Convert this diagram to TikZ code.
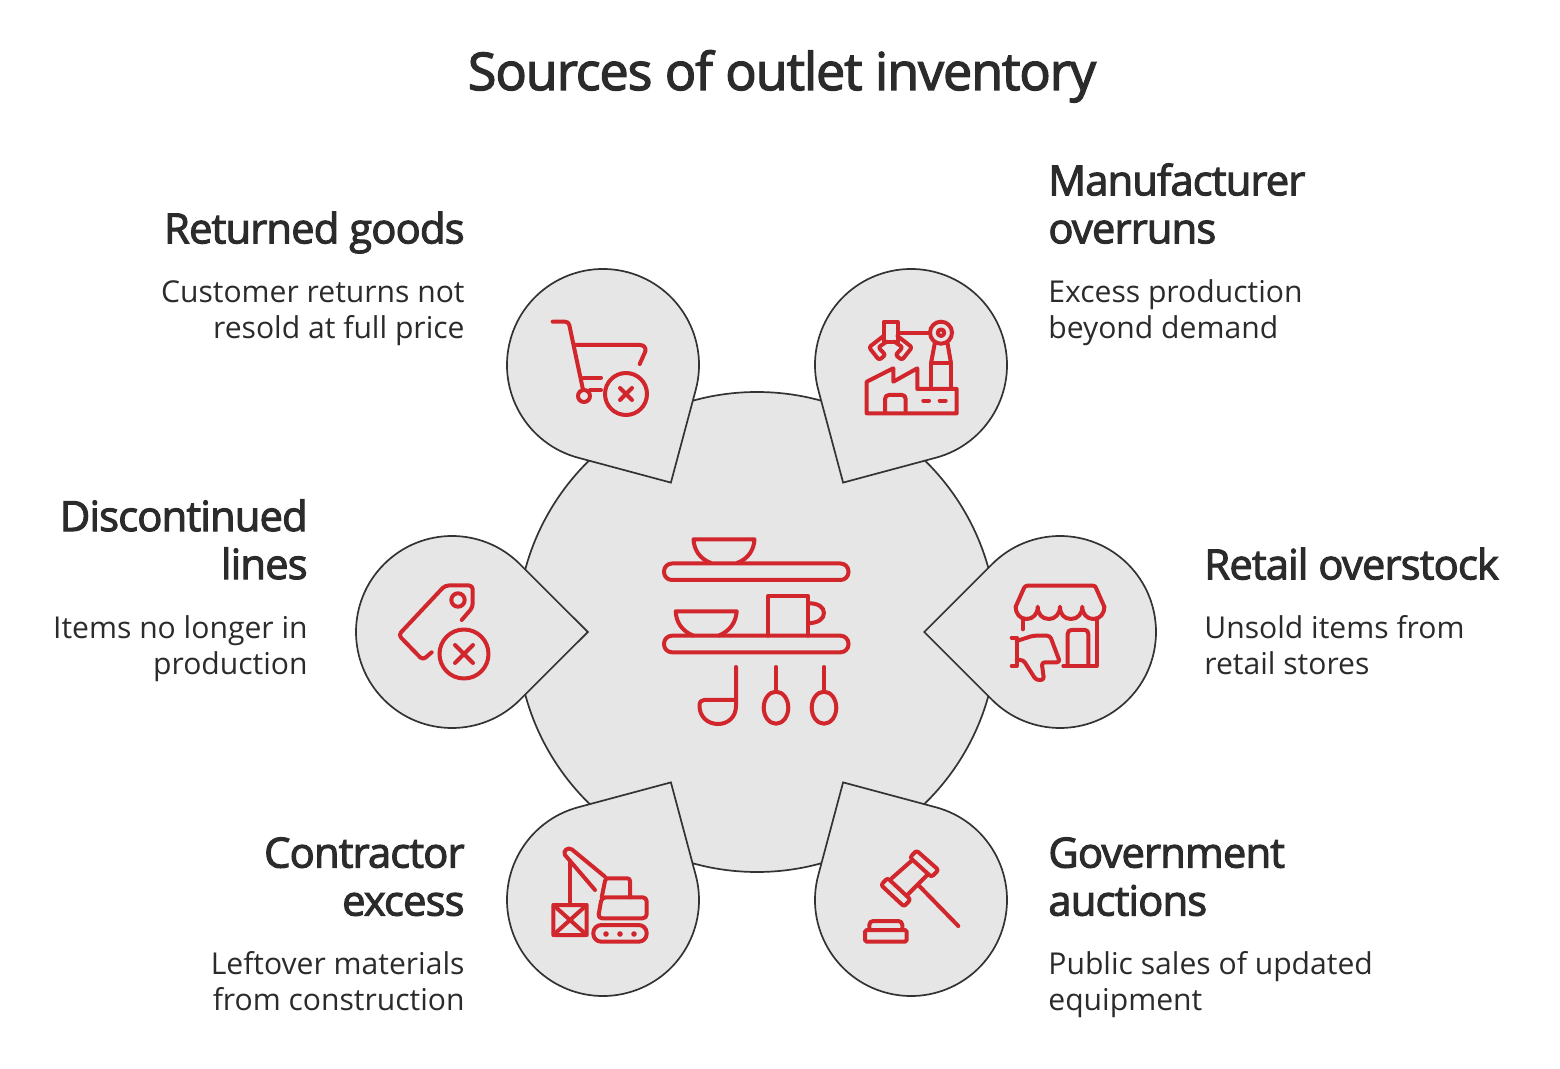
\documentclass[tikz,border=0pt]{standalone}
\usepackage{fontspec}
\setmainfont{Open Sans}
\newfontfamily\headfont[FakeBold=2.5,LetterSpace=-2]{Open Sans}
\definecolor{iconred}{HTML}{D0262C}
\definecolor{inkdark}{HTML}{2B2B2B}
\definecolor{petalfill}{HTML}{E6E6E6}
\definecolor{edge}{HTML}{333333}
\newcommand{\headstrut}{\rule{0pt}{20pt}}
\newcommand{\bodystrut}{\rule{0pt}{15pt}}
\tikzset{
  shapeedge/.style={draw=edge,fill=petalfill,line width=0.85pt,line join=miter},
  icon/.style={draw=iconred,line width=2pt,line cap=round,line join=round},
  icondot/.style={fill=iconred,draw=none},
  titletext/.style={font=\headfont\fontsize{26}{30}\selectfont,text=inkdark,inner sep=0pt},
  headL/.style={font=\headfont\fontsize{20.85}{24}\selectfont,text=inkdark,inner sep=0pt,align=right,anchor=north east,execute at begin node=\headstrut},
  headR/.style={font=\headfont\fontsize{20.85}{24}\selectfont,text=inkdark,inner sep=0pt,align=left,anchor=north west,execute at begin node=\headstrut},
  bodyL/.style={font=\fontsize{15.05}{18}\selectfont,text=inkdark,inner sep=0pt,align=right,anchor=north east,execute at begin node=\bodystrut},
  bodyR/.style={font=\fontsize{15.05}{18}\selectfont,text=inkdark,inner sep=0pt,align=left,anchor=north west,execute at begin node=\bodystrut},
}
\newcommand{\petal}[3]{% cx, cy, tip direction
  \draw[shapeedge] ($(#1,#2)+(#3:135.8)$) -- ($(#1,#2)+(#3+45:96)$) arc[start angle=#3+45,delta angle=270,radius=96] -- cycle;
}
\usetikzlibrary{calc}
\begin{document}
\begin{tikzpicture}[x=0.5pt,y=-0.5pt]
\useasboundingbox (0,0) rectangle (1560,1069);
\fill[white] (0,0) rectangle (1560,1069);
% hub and petals
\draw[shapeedge] (757,632) circle[radius=240];
\petal{603}{365}{60}
\petal{911}{365}{120}
\petal{452}{632}{0}
\petal{1060}{632}{180}
\petal{603}{900}{-60}
\petal{911}{900}{-120}
% title
\node[titletext,anchor=base] (title) at (782,90) {Sources of outlet inventory};
% texts
\node[headL] (h1) at (465,203) {Returned goods};
\node[bodyL] (b1) at (465,280) {Customer returns not\\resold at full price};
\node[headR] (h2) at (1048,163) {Manufacturer\\overruns};
\node[bodyR] (b2) at (1048,279) {Excess production\\beyond demand};
\node[headL] (h3) at (308,499) {Discontinued\\lines};
\node[bodyL] (b3) at (308,615) {Items no longer in\\production};
\node[headR] (h4) at (1204,539) {Retail overstock};
\node[bodyR] (b4) at (1204,615) {Unsold items from\\retail stores};
\node[headL] (h5) at (465,837) {Contractor\\excess};
\node[bodyL] (b5) at (465,951) {Leftover materials\\from construction};
\node[headR] (h6) at (1048,837) {Government\\auctions};
\node[bodyR] (b6) at (1048,951) {Public sales of updated\\equipment};
% centre icon
\draw[icon,rounded corners=4pt] (664,563.5) rectangle (848.5,580);
\draw[icon,rounded corners=4pt] (664,635.7) rectangle (848.5,652.3);
\draw[icon] (711,563) .. controls (700,559) and (694,550) .. (693.5,539.3) -- (754.5,539.3) .. controls (754,550) and (748,559) .. (737,563);
\draw[icon] (693,635.5) .. controls (682,631) and (676,622) .. (675.7,611.3) -- (736.7,611.3) .. controls (736,622) and (730,631) .. (719,635.5);
\draw[icon] (768,635.7) -- (768,596) -- (808,596) -- (808,635.7);
\draw[icon] (808,603.3) .. controls (818,603) and (824,607) .. (824,613) .. controls (824,619) and (818,623) .. (808,623.3);
\draw[icon] (736,667) -- (736,706) .. controls (736,717) and (728,724) .. (718,724) .. controls (707,724) and (699.5,716) .. (699.5,706) .. controls (699.5,702) and (701,700) .. (704,700) -- (736,700);
\draw[icon] (776,667) -- (776,691.7);
\draw[icon] (776,707.7) ellipse[x radius=12.3,y radius=16];
\draw[icon] (824,667) -- (824,691.7);
\draw[icon] (824,707.7) ellipse[x radius=12.3,y radius=16];
% cart
\draw[icon] (552.7,321.7) -- (565,321.7) .. controls (567.5,321.7) and (568.7,323) .. (569.3,325) -- (582.7,388.3);
\draw[icon] (575,345) -- (640,345) .. controls (644,345) and (646,348) .. (645.5,351) -- (639.7,364);
\draw[icon] (583.3,377.7) -- (601,377.7);
\draw[icon] (590,390) -- (601,390);
\draw[icon] (584,396) circle[radius=6];
\draw[icon] (626,394) circle[radius=21];
\draw[icon] (620,388) -- (632,400) (632,388) -- (620,400);
% factory
\draw[icon] (866.7,381.7) -- (893.3,368.3) -- (893.3,381.7) -- (917.3,368.3) -- (917.3,389) -- (956.7,389) -- (956.7,413.3) -- (866.7,413.3) -- cycle;
\draw[icon] (885,413) -- (885,399) .. controls (885,396.5) and (887,395) .. (889,395) -- (902,395) .. controls (904,395) and (905.7,396.5) .. (905.7,399) -- (905.7,413);
\draw[icon] (923.3,400.7) -- (929,400.7) (939.7,400.7) -- (945.7,400.7);
\draw[icon] (931,389) -- (931,363.3) -- (951,363.3) -- (951,389);
\draw[icon] (931,363.3) -- (935,342) (951,363.3) -- (947.3,342);
\draw[icon] (941,332.7) circle[radius=11];
\draw[icon] (941,332.7) circle[radius=3.3];
\draw[icon] (898,332.7) -- (930,332.7);
\draw[icon] (883.5,322) rectangle (897.5,341.7);
\draw[icon,rounded corners=1.2pt] (883.5,336) -- (869,347.3) -- (879,360) -- (885.5,355) -- (878.3,347.3) -- (886.7,341.7);
\draw[icon,rounded corners=1.2pt] (897.5,336) -- (912,347.3) -- (902,360) -- (895.5,355) -- (902.7,347.3) -- (894.3,341.7);
% tag
\draw[icon,rounded corners=1.8pt] (431.7,652.3) -- (422.7,660) -- (398.5,635) -- (445,585.5) -- (472.7,585.5) -- (472.7,607.3) -- (461.7,620);
\draw[icon] (458,600) circle[radius=6.7];
\draw[icon] (464,654) circle[radius=24.5];
\draw[icon] (455,645) -- (473,663) (473,645) -- (455,663);
% store
\draw[icon] (1015.7,606.7) -- (1024,588) .. controls (1024.7,586.5) and (1026,585.7) .. (1027.5,585.7) -- (1093,585.7) .. controls (1094.5,585.7) and (1095.5,586.5) .. (1096,588) -- (1104.3,606.7);
\draw[icon] (1015.7,606.7) .. controls (1015.7,614) and (1020,619) .. (1026.7,619) .. controls (1033,619) and (1037.7,614) .. (1037.7,606.7)
  .. controls (1037.7,614) and (1042,619) .. (1049,619) .. controls (1055,619) and (1060,614) .. (1060,606.7)
  .. controls (1060,614) and (1064,619) .. (1071,619) .. controls (1077.5,619) and (1082.3,614) .. (1082.3,606.7)
  .. controls (1082.3,614) and (1087,619) .. (1093.3,619) .. controls (1100,619) and (1104.3,614) .. (1104.3,606.7);
\draw[icon] (1022.7,618.3) -- (1022.7,629.3);
\draw[icon] (1096.7,618.3) -- (1096.7,666) -- (1063.3,666);
\draw[icon] (1067.7,666) -- (1067.7,634) .. controls (1067.7,631.5) and (1069,630) .. (1071.5,630) -- (1085,630) .. controls (1087,630) and (1088.3,631.5) .. (1088.3,634) -- (1088.3,666);
\draw[icon] (1011.7,637.7) -- (1016.7,637.7) -- (1016.7,666) -- (1011.7,666);
\draw[icon,rounded corners=1.5pt] (1016.7,641) -- (1033,635.7) -- (1050,635.7) -- (1060,662.3) -- (1041.7,662.3) -- (1044,680) -- (1036,680) -- (1023.3,660) -- (1016.7,660);
% crane
\draw[icon] (570,860.7) -- (570,905);
\draw[icon] (605,876.7) -- (572,849.5) .. controls (568,846.5) and (562.5,851) .. (565,855) -- (595,890);
\draw[icon] (601.7,897.3) -- (605,881) .. controls (605.5,879) and (606.5,878.3) .. (608,878.3) -- (627,878.3) .. controls (629,878.3) and (630,879.3) .. (630,881) -- (630,897.3);
\draw[icon,rounded corners=2pt] (601.7,897.3) -- (646.7,897.3) -- (646.7,918.3) -- (598,918.3) -- cycle;
\draw[icon,rounded corners=4pt] (593.3,925) rectangle (646.7,941.7);
\fill[icondot] (606,934) circle[radius=2.8] (620,934) circle[radius=2.8] (634,934) circle[radius=2.8];
\draw[icon,rounded corners=0.8pt] (553.3,905) rectangle (586.7,935);
\draw[icon] (553.3,905) -- (586.7,935) (586.7,905) -- (553.3,935);
% gavel
\draw[icon,rounded corners=1.2pt] (916.5,850.5) -- (938.5,870) -- (931.5,877) -- (910,857.5) -- cycle;
\draw[icon,rounded corners=1.2pt] (887.5,878) -- (910.5,899.5) -- (904,906.5) -- (881,885) -- cycle;
\draw[icon] (911.7,860.7) -- (891.7,878.3) (927.3,875) -- (907.3,895);
\draw[icon] (918.3,885) -- (958.3,926);
\draw[icon] (869.3,929) -- (869.3,925) .. controls (869.3,922.5) and (871,921) .. (873.3,921) -- (898.3,921) .. controls (900.5,921) and (902.3,922.5) .. (902.3,925) -- (902.3,929);
\draw[icon,rounded corners=0.8pt] (865,930) rectangle (906.7,941.7);
\end{tikzpicture}
\end{document}
